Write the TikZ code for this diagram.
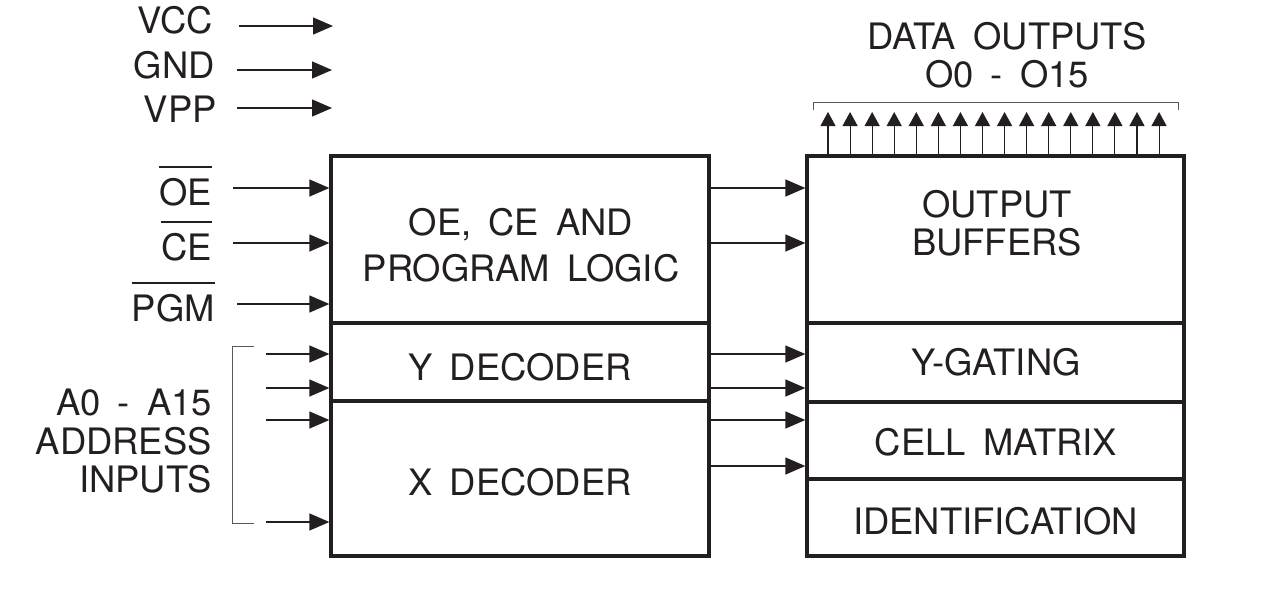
\documentclass[tikz,border=0pt]{standalone}
\usepackage{fontspec}
\setmainfont{TeX Gyre Heros}[WordSpace=1.7]
\usetikzlibrary{arrows.meta}
\definecolor{ink}{RGB}{35,31,32}
\newcommand\ovl[1]{\setbox0\hbox{#1}\rlap{\raisebox{37.5pt}[0pt][0pt]{\rule{\wd0}{1.2pt}}}\box0}
\begin{document}
\begin{tikzpicture}[x=1pt,y=-1pt,
  box/.style={draw=ink, line width=3.3pt, inner sep=0pt, rectangle},
  txt/.style={inner sep=0pt, text=ink, font=\fontsize{36.4}{38.5}\selectfont, align=center},
  lbl/.style={inner sep=0pt, text=ink, font=\fontsize{36.4}{38.5}\selectfont, anchor=base east},
  arr/.style={draw=ink, line width=1.3pt, -{Triangle[length=20pt,width=17pt]}},
  oarr/.style={draw=ink, line width=1.1pt, -{Triangle[length=14pt,width=15pt]}},
  brk/.style={draw=ink!75, line width=1pt}]
\useasboundingbox (0,0) rectangle (1268,597);

% boxes
\node[box, minimum width=378pt, minimum height=167pt] (logic) at (520,239.5) {};
\node[box, minimum width=378pt, minimum height=78pt] (ydec) at (520,362) {};
\node[box, minimum width=378pt, minimum height=155pt] (xdec) at (520,478.5) {};
\node[box, minimum width=377pt, minimum height=167pt] (buf) at (995.5,239.5) {};
\node[box, minimum width=377pt, minimum height=79pt] (ygate) at (995.5,362.5) {};
\node[box, minimum width=377pt, minimum height=77pt] (cell) at (995.5,440.5) {};
\node[box, minimum width=377pt, minimum height=77pt] (ident) at (995.5,517.5) {};

% box texts
\node[txt, font=\fontsize{36.4}{45.5}\selectfont] (logic-t) at (521,245) {OE, CE AND\\PROGRAM LOGIC};
\node[txt] (ydec-t) at (520,367) {Y DECODER};
\node[txt] (xdec-t) at (520,482) {X DECODER};
\node[txt] (buf-t) at (997,223) {OUTPUT\\BUFFERS};
\node[txt] (ygate-t) at (996,362.5) {Y-GATING};
\node[txt] (cell-t) at (996,442.5) {CELL MATRIX};
\node[txt] (ident-t) at (995.5,521) {IDENTIFICATION};
\node[txt] (dout) at (1007,55) {DATA OUTPUTS\\O0 - O15};

% left labels
\node[lbl] (vcc) at (213,33) {VCC};
\node[lbl] (gnd) at (215,78) {GND};
\node[lbl] (vpp) at (217,122) {VPP};
\node[lbl] (oe) at (212,205) {\ovl{OE}};
\node[lbl] (ce) at (212,260) {\ovl{CE}};
\node[lbl] (pgm) at (215,321) {\ovl{PGM}};
\node[txt, anchor=east, align=right] (addr) at (212,441.5) {A0 - A15\\ADDRESS\\INPUTS};

% power arrows
\coordinate (vcc-s) at (239,26); \coordinate (vcc-e) at (333,26);
\coordinate (gnd-s) at (237,70); \coordinate (gnd-e) at (332,70);
\coordinate (vpp-s) at (237,108); \coordinate (vpp-e) at (332,108);
\draw[arr] (vcc-s) -- (vcc-e);
\draw[arr] (gnd-s) -- (gnd-e);
\draw[arr] (vpp-s) -- (vpp-e);

% control inputs
\coordinate (oe-s) at (233,188);
\coordinate (ce-s) at (233,243);
\coordinate (pgm-s) at (237,304);
\draw[arr] (oe-s) -- (logic.west |- oe-s);
\draw[arr] (ce-s) -- (logic.west |- ce-s);
\draw[arr] (pgm-s) -- (logic.west |- pgm-s);

% address inputs
\coordinate (a1) at (266,354);
\coordinate (a2) at (266,388);
\coordinate (a3) at (266,420);
\coordinate (a4) at (266,522);
\draw[arr] (a1) -- (ydec.west |- a1);
\draw[arr] (a2) -- (ydec.west |- a2);
\draw[arr] (a3) -- (xdec.west |- a3);
\draw[arr] (a4) -- (xdec.west |- a4);
\draw[brk] (254,346) -- (232,346) -- (232,523) -- (254,523);

% internal arrows
\coordinate (m1) at (0,188);
\coordinate (m2) at (0,243);
\coordinate (m3) at (0,354);
\coordinate (m4) at (0,388);
\coordinate (m5) at (0,420);
\coordinate (m6) at (0,466);
\draw[arr] (logic.east |- m1) -- (buf.west |- m1);
\draw[arr] (logic.east |- m2) -- (buf.west |- m2);
\draw[arr] (ydec.east |- m3) -- (ygate.west |- m3);
\draw[arr] (ydec.east |- m4) -- (ygate.west |- m4);
\draw[arr] (xdec.east |- m5) -- (cell.west |- m5);
\draw[arr] (xdec.east |- m6) -- (cell.west |- m6);

% data outputs
\foreach \i in {0,...,15} {
  \coordinate (o\i) at (828+\i*22.07,112);
  \draw[oarr] (buf.north -| o\i) -- (o\i);
}
\draw[brk] (813,110) -- (813,102) -- (1178,102) -- (1178,110);
\end{tikzpicture}
\end{document}
